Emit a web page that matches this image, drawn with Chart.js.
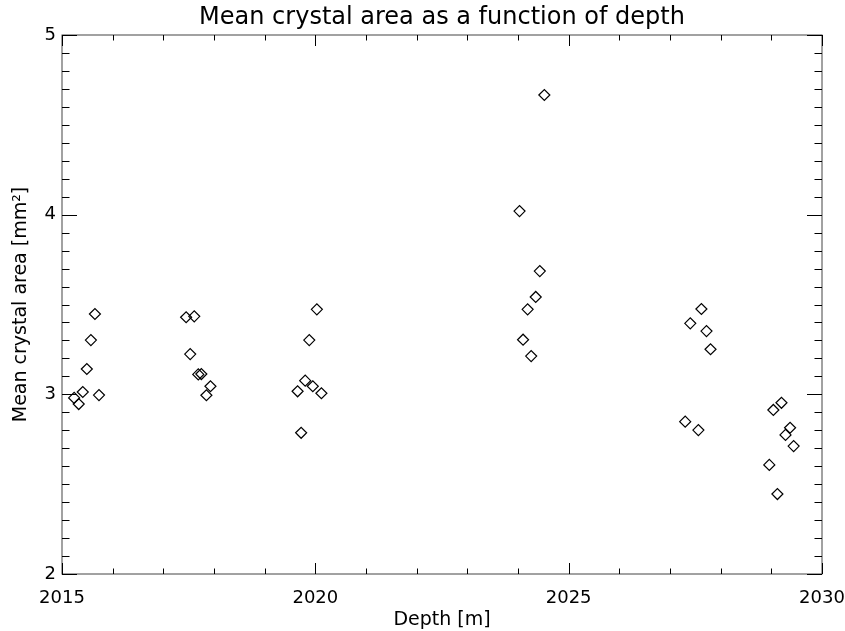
<!DOCTYPE html>
<html>
<head>
<meta charset="utf-8">
<script src="https://cdn.jsdelivr.net/npm/chart.js@4/dist/chart.umd.min.js"></script>
<style>
  html, body { margin: 0; padding: 0; background: #fff; }
  #wrap { width: 845px; height: 631px; }
</style>
</head>
<body>
<div id="wrap"><canvas id="c" width="845" height="631"></canvas></div>
<script>
// ---- data ----
const depthM = [
  2015.24, 2015.33, 2015.41, 2015.49, 2015.57, 2015.65, 2015.73,
  2017.45, 2017.61, 2017.53, 2017.69, 2017.75, 2017.93, 2017.85,
  2020.03, 2019.88, 2019.80, 2019.65, 2019.95, 2020.12, 2019.72,
  2024.52, 2024.03, 2024.43, 2024.35, 2024.19, 2024.10, 2024.26,
  2027.62, 2027.40, 2027.72, 2027.80, 2027.30, 2027.56,
  2029.20, 2029.04, 2029.37, 2029.28, 2029.44, 2028.96, 2029.12
];
const meanArea = [
  2.98, 2.946, 3.013, 3.141, 3.302, 3.447, 2.996,
  3.429, 3.434, 3.224, 3.111, 3.113, 3.045, 2.995,
  3.473, 3.302, 3.076, 3.017, 3.045, 3.006, 2.786,
  4.666, 4.020, 3.686, 3.542, 3.473, 3.304, 3.213,
  3.475, 3.395, 3.352, 3.251, 2.848, 2.801,
  2.953, 2.913, 2.814, 2.774, 2.712, 2.607, 2.445
];
const xRange = [2015, 2030];
const yRange = [2, 5];
const titleText = "Mean crystal area as a function of depth";
const xTitle = "Depth [m]";
const yTitle = "Mean crystal area [mm\u00B2]";

const FONT = "'DejaVu Sans', sans-serif";

const points = depthM.map((d, i) => ({ x: d, y: meanArea[i] }));

const frameTicks = {
  id: 'frameTicks',
  afterDatasetsDraw(chart) {
    const ctx = chart.ctx;
    const a = chart.chartArea;
    const xs = chart.scales.x, ys = chart.scales.y;
    ctx.save();
    ctx.strokeStyle = '#444';
    ctx.lineWidth = 1;
    ctx.strokeRect(a.left, a.top, a.right - a.left, a.bottom - a.top);
    ctx.strokeStyle = '#000';
    ctx.beginPath();
    for (let v = xRange[0]; v <= xRange[1] + 1e-9; v += 1) {
      const px = Math.round(xs.getPixelForValue(v)) + 0.5;
      const major = Math.abs(v % 5) < 1e-9;
      const len = major ? 11 : 5.5;
      ctx.moveTo(px, a.bottom); ctx.lineTo(px, a.bottom - len);
      ctx.moveTo(px, a.top); ctx.lineTo(px, a.top + len);
    }
    for (let k = 0; k <= (yRange[1] - yRange[0]) * 10; k++) {
      const v = yRange[0] + k / 10;
      const py = Math.round(ys.getPixelForValue(v)) + 0.5;
      const major = k % 10 === 0;
      const len = major ? 15 : 7.5;
      ctx.moveTo(a.left, py); ctx.lineTo(a.left + len, py);
      ctx.moveTo(a.right, py); ctx.lineTo(a.right - len, py);
    }
    ctx.stroke();
    ctx.restore();
  }
};

new Chart(document.getElementById('c'), {
  type: 'scatter',
  data: {
    datasets: [{
      data: points,
      pointStyle: 'rectRot',
      pointRadius: 5.5,
      pointHoverRadius: 5.5,
      borderColor: '#000',
      backgroundColor: 'rgba(0,0,0,0)',
      pointBorderWidth: 1.2,
      showLine: false
    }]
  },
  options: {
    responsive: false,
    animation: false,
    events: [],
    layout: { padding: { left: 0, right: 23, top: 0, bottom: 0 } },
    plugins: {
      legend: { display: false },
      tooltip: { enabled: false },
      title: {
        display: true,
        text: titleText,
        fullSize: false,
        color: '#000',
        font: { family: FONT, size: 24, weight: 'normal', lineHeight: 1.0 },
        padding: { top: 6, bottom: 5 }
      }
    },
    scales: {
      x: {
        type: 'linear',
        min: xRange[0], max: xRange[1],
        grid: { display: false, drawTicks: false },
        border: { display: false },
        ticks: {
          stepSize: 5,
          color: '#000',
          padding: 14,
          maxRotation: 0,
          font: { family: FONT, size: 18 },
          callback: (v) => String(v)
        },
        title: {
          display: true,
          text: xTitle,
          color: '#000',
          font: { family: FONT, size: 19 },
          padding: { top: 0, bottom: 0 }
        },
        afterFit(s) { s.height = 57; s.paddingLeft = 0; s.paddingRight = 0; }
      },
      y: {
        type: 'linear',
        min: yRange[0], max: yRange[1],
        grid: { display: false, drawTicks: false },
        border: { display: false },
        ticks: {
          stepSize: 1,
          color: '#000',
          padding: 6,
          font: { family: FONT, size: 18 },
          callback: (v) => String(v)
        },
        title: {
          display: true,
          text: yTitle,
          color: '#000',
          font: { family: FONT, size: 19 },
          padding: { top: 10, bottom: 0 }
        },
        afterFit(s) { s.width = 62; s.paddingTop = 0; s.paddingBottom = 0; }
      }
    }
  },
  plugins: [frameTicks]
});
</script>
</body>
</html>
